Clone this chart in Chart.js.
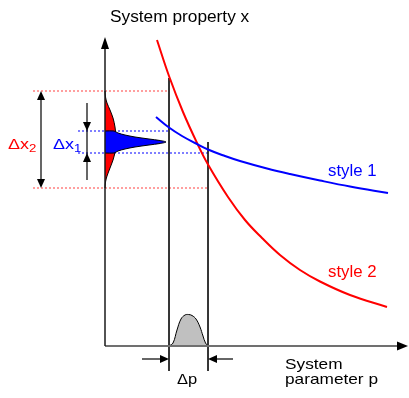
<!DOCTYPE html>
<html>
<head>
<meta charset="utf-8">
<script src="https://cdn.jsdelivr.net/npm/chart.js@4.4.1/dist/chart.umd.min.js"></script>
<style>
  html, body { margin: 0; padding: 0; background: #fff; }
  canvas { display: block; }
</style>
</head>
<body>
<canvas id="sensitivityChart" width="409" height="398"></canvas>
<script>
// Response curves: system property x against system parameter p
const style1P = [5.1, 6.4, 7.7, 9.0, 10.3, 12.0, 13.5, 16.2, 18.5, 21.5, 24.5, 28.3];
const style1X = [22.9, 21.85, 21.0, 20.3, 19.65, 19.0, 18.5, 17.75, 17.2, 16.55, 15.95, 15.3];
const style2P = [5.2, 6.4, 7.8, 9.3, 10.3, 12.3, 14.0, 15.7, 17.5, 19.5, 21.5, 24.5, 28.2];
const style2X = [30.6, 27.0, 23.4, 20.1, 18.15, 14.9, 12.6, 10.8, 9.1, 7.6, 6.45, 5.1, 3.9];

// Parameter spread (grey bump on the p axis)
const deltaP = [6.4, 10.3];
const pDistP = [6.4, 6.8, 7.2, 7.6, 8.0, 8.35, 8.7, 9.1, 9.5, 9.8, 10.05, 10.3];
const pDistH = [0, 0.3, 1.6, 2.7, 3.1, 3.15, 3.05, 2.7, 1.9, 1.0, 0.3, 0];

// Resulting spread of x for each style (drawn sideways on the x axis)
const deltaX1 = [19.3, 21.5];
const deltaX2 = [15.8, 25.5];
const x1DistX = [21.5, 21.5, 21.3, 21.1, 20.9, 20.7, 20.55, 20.4, 20.25, 20.1, 19.9, 19.7, 19.5, 19.3, 19.3];
const x1DistW = [0, 0.9, 1.3, 2.0, 3.0, 4.4, 5.5, 6.1, 5.5, 4.4, 3.0, 2.0, 1.3, 0.9, 0];
const x2DistX = [25.5, 24.9, 24.3, 23.6, 22.8, 21.9, 20.7, 19.4, 18.6, 17.8, 17.0, 16.4, 15.8];
const x2DistW = [0, 0.05, 0.2, 0.5, 0.8, 1.0, 1.1, 1.0, 0.8, 0.5, 0.2, 0.05, 0];

// where the guide lines leave the curves
const guideTop = [26.8, 20.4];
const guideBottom = -2.5;

const FONT = '"Liberation Sans", Arial, sans-serif';

const toPoints = (xs, ys) => xs.map((v, i) => ({ x: v, y: ys[i] }));

function arrowHead(ctx, tipX, tipY, dirX, dirY, len, half) {
    const n = Math.hypot(dirX, dirY);
    const ux = dirX / n, uy = dirY / n;
    const bx = tipX - ux * len, by = tipY - uy * len;
    ctx.beginPath();
    ctx.moveTo(tipX, tipY);
    ctx.lineTo(bx - uy * half, by + ux * half);
    ctx.lineTo(bx + uy * half, by - ux * half);
    ctx.closePath();
    ctx.fill();
}

function line(ctx, x1, y1, x2, y2) {
    ctx.beginPath();
    ctx.moveTo(x1, y1);
    ctx.lineTo(x2, y2);
    ctx.stroke();
}

// text with a slight horizontal stretch, returns drawn width
function label(ctx, text, x, y, size, color, stretch = 1.1) {
    ctx.save();
    ctx.translate(x, y);
    ctx.scale(stretch, 1);
    ctx.font = size + 'px ' + FONT;
    ctx.fillStyle = color;
    ctx.textBaseline = 'alphabetic';
    ctx.fillText(text, 0, 0);
    const w = ctx.measureText(text).width * stretch;
    ctx.restore();
    return w;
}

function deltaLabel(ctx, sub, x, y, color) {
    const w = label(ctx, '\u0394x', x, y, 15, color, 1.2);
    label(ctx, sub, x + w, y + 3, 11, color, 1.2);
}

const overlay = {
    id: 'overlay',
    afterDatasetsDraw(chart) {
        const ctx = chart.ctx;
        const px = v => chart.scales.x.getPixelForValue(v);
        const py = v => chart.scales.y.getPixelForValue(v);
        const ox = px(0), oy = py(0);
        ctx.save();

        // axes with arrow tips
        ctx.fillStyle = '#000';
        ctx.strokeStyle = '#707070';
        ctx.lineWidth = 2;
        line(ctx, ox, oy, px(30.3) - 8, oy);
        arrowHead(ctx, px(30.3), oy, 1, 0, 11, 4.5);
        ctx.strokeStyle = '#1a1a1a';
        ctx.lineWidth = 1.5;
        line(ctx, ox, oy, ox, py(30.9) + 8);
        arrowHead(ctx, ox, py(30.9), 0, -1, 12, 4);

        // spread markers
        ctx.strokeStyle = '#000';
        ctx.lineWidth = 1.2;
        const a2 = px(-6.4);
        line(ctx, a2, py(deltaX2[1]) + 4, a2, py(deltaX2[0]) - 4);
        arrowHead(ctx, a2, py(deltaX2[1]), 0, -1, 9, 4);
        arrowHead(ctx, a2, py(deltaX2[0]), 0, 1, 9, 4);

        const a1 = px(-1.8);
        line(ctx, a1, py(deltaX1[1] + 2.8), a1, py(deltaX1[0] - 2.7));
        arrowHead(ctx, a1, py(deltaX1[1]), 0, 1, 9, 4);
        arrowHead(ctx, a1, py(deltaX1[0]), 0, -1, 9, 4);

        const ay = py(-1.3);
        line(ctx, px(deltaP[0] - 2.7), ay, px(deltaP[0]) - 4, ay);
        arrowHead(ctx, px(deltaP[0]), ay, 1, 0, 9, 4);
        line(ctx, px(deltaP[1] + 2.5), ay, px(deltaP[1]) + 4, ay);
        arrowHead(ctx, px(deltaP[1]), ay, -1, 0, 9, 4);

        ctx.restore();
    },
    afterDraw(chart) {
        const ctx = chart.ctx;
        label(ctx, 'System property x', 110, 22, 16, '#000', 1.08);
        label(ctx, 'style 1', 328, 176, 16, '#0000ff', 1.05);
        label(ctx, 'style 2', 328, 277, 16, '#ff0000', 1.05);
        label(ctx, 'System', 285, 369, 15, '#000', 1.15);
        label(ctx, 'parameter p', 285, 384, 15, '#000', 1.15);
        label(ctx, '\u0394p', 177, 384, 15, '#000', 1.1);
        deltaLabel(ctx, '2', 8, 149, '#ff0000');
        deltaLabel(ctx, '1', 53, 149, '#0000ff');
    }
};

const dotted = (x0, x1, y, color) => ({
    data: [{ x: x0, y: y }, { x: x1, y: y }],
    borderColor: color, borderWidth: 1, borderDash: [2, 2], order: 6
});
const guide = (p, top) => ({
    data: [{ x: p, y: top }, { x: p, y: guideBottom }],
    borderColor: '#1a1a1a', borderWidth: 1, order: 5
});

new Chart(document.getElementById('sensitivityChart'), {
    type: 'scatter',
    data: {
        datasets: [
            { label: 'style 1', data: toPoints(style1P, style1X), borderColor: '#0000ff', borderWidth: 2, tension: 0.4, order: 1 },
            { label: 'style 2', data: toPoints(style2P, style2X), borderColor: '#ff0000', borderWidth: 2, tension: 0.4, order: 1 },
            { label: 'x spread style 1', data: toPoints(x1DistW, x1DistX), fill: 'shape', backgroundColor: '#0000ff', borderColor: '#000', borderWidth: 1, tension: 0.3, order: 2 },
            { label: 'x spread style 2', data: toPoints(x2DistW, x2DistX), fill: 'shape', backgroundColor: '#ff0000', borderColor: '#000', borderWidth: 1, tension: 0.3, order: 3 },
            { label: 'p spread', data: toPoints(pDistP, pDistH), fill: 'origin', backgroundColor: '#c0c0c0', borderColor: '#000', borderWidth: 1, tension: 0.4, order: 2 },
            guide(deltaP[0], guideTop[0]),
            guide(deltaP[1], guideTop[1]),
            dotted(-7.2, deltaP[0], deltaX2[1], '#ff4040'),
            dotted(-7.2, deltaP[1], deltaX2[0], '#ff4040'),
            dotted(-2.7, deltaP[0], deltaX1[1], '#0000ff'),
            dotted(-2.7, deltaP[1], deltaX1[0], '#0000ff')
        ]
    },
    options: {
        responsive: false,
        animation: false,
        events: [],
        showLine: true,
        elements: { point: { radius: 0 } },
        layout: { padding: 0 },
        scales: {
            x: { type: 'linear', min: -10.5, max: 30.4, display: false },
            y: { type: 'linear', min: -5.2, max: 34.6, display: false }
        },
        plugins: {
            legend: { display: false },
            tooltip: { enabled: false }
        }
    },
    plugins: [overlay]
});
</script>
</body>
</html>
